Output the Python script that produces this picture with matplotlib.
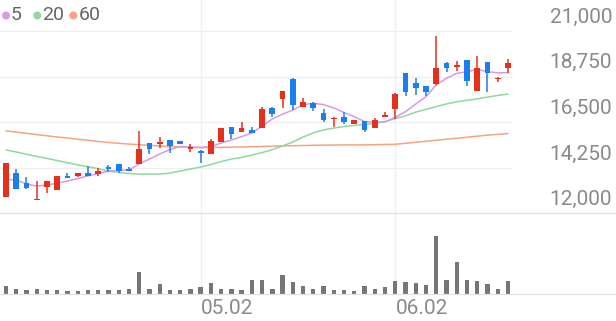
import numpy as np
import matplotlib
matplotlib.use('Agg')
import matplotlib.pyplot as plt
from matplotlib.patches import Circle
from matplotlib.lines import Line2D

plt.rcParams['font.family'] = ['Roboto', 'DejaVu Sans']

# ==========================================
# daily candles (KRW)
# ==========================================
opens = [12800, 13980, 13520, 12660, 13290, 13150, 13850, 13850, 13980, 13930,
         14300, 14420, 14210, 14440, 15490, 15420, 15620, 15570, 15160, 15050,
         14930, 15540, 16280, 16000, 16120, 16230, 17190, 17630, 18630, 17270,
         17430, 16940, 16640, 16770, 16400, 16570, 16200, 16770, 17140, 18910,
         18420, 18300, 18370, 19410, 19240, 19570, 18050, 19490, 18620, 19160]
highs = [14470, 14180, 13810, 13600, 13600, 13850, 14010, 13980, 14350, 14230,
         14390, 14420, 14300, 16080, 15490, 15790, 15620, 15570, 15420, 15130,
         15670, 16230, 16280, 16510, 16280, 17270, 17270, 18030, 18670, 17680,
         17510, 17140, 16740, 17020, 16610, 16570, 16690, 17020, 17960, 18910,
         18700, 18300, 20750, 19490, 19540, 19570, 19770, 19490, 18750, 19600]
lows = [12800, 13200, 13200, 12640, 13020, 13150, 13760, 13810, 13850, 13850,
        14060, 14010, 14110, 14440, 14930, 15240, 15000, 15420, 15010, 14470,
        14930, 15540, 15660, 16000, 15980, 16230, 16740, 17190, 17100, 17270,
        17070, 16500, 16280, 16400, 16400, 16030, 16200, 16770, 16660, 17790,
        17840, 17790, 18340, 18990, 19030, 18290, 18050, 18010, 18500, 18940]
closes = [14470, 13220, 13250, 12710, 13600, 13850, 13760, 13980, 13850, 14110,
          14190, 14110, 14110, 15160, 15160, 15510, 15340, 15420, 15260, 15000,
          15570, 16230, 15920, 16230, 15980, 17140, 16890, 18030, 17350, 17510,
          17190, 16610, 16690, 16530, 16610, 16120, 16610, 16860, 17890, 17980,
          18200, 18010, 19160, 19160, 19290, 18530, 19160, 18910, 18670, 19410]
volumes = [73, 47, 40, 47, 40, 40, 30, 30, 40, 40,
           40, 40, 47, 213, 50, 97, 40, 40, 50, 70,
           107, 50, 50, 40, 140, 133, 43, 183, 120, 73,
           43, 80, 37, 37, 27, 73, 50, 67, 130, 113,
           107, 87, 577, 140, 313, 140, 130, 93, 50, 127]

# moving averages
ma5 = [13680, 13650, 13450, 13350, 13400, 13490, 13600, 13720, 13850, 13970,
       14090, 14120, 14140, 14440, 14680, 14930, 15150, 15300, 15280, 15250,
       15300, 15470, 15620, 15790, 15970, 16310, 16660, 16900, 17100, 17370,
       17430, 17370, 17200, 16980, 16770, 16530, 16500, 16520, 16740, 17020,
       17400, 17760, 18340, 18670, 18910, 18990, 19110, 18990, 18940, 18940]
ma20 = [15130, 15030, 14920, 14810, 14710, 14610, 14500, 14400, 14300, 14210,
        14090, 14020, 13970, 13940, 13940, 13940, 13990, 14090, 14190, 14290,
        14410, 14560, 14680, 14760, 14880, 15000, 15150, 15330, 15520, 15770,
        15970, 16120, 16210, 16290, 16340, 16390, 16440, 16530, 16680, 16810,
        17000, 17130, 17270, 17400, 17510, 17580, 17650, 17740, 17820, 17890]
ma60 = [16070, 16010, 15950, 15890, 15830, 15770, 15720, 15660, 15610, 15550,
        15500, 15460, 15420, 15390, 15360, 15330, 15300, 15280, 15260, 15250,
        15260, 15260, 15270, 15280, 15290, 15300, 15320, 15330, 15340, 15350,
        15360, 15370, 15370, 15380, 15380, 15380, 15390, 15400, 15410, 15460,
        15510, 15560, 15610, 15660, 15710, 15760, 15810, 15860, 15900, 15940]

ma_names = ['5', '20', '60']
ma_colors = ['#d59be9', '#8fd89f', '#f6a37f']

tick_idx = [19, 38]
tick_labels = ['05.02', '06.02']
price_ticks = [12000, 14250, 16500, 18750, 21000]

RED = '#e5301c'
BLUE = '#1a7ef2'
GRID = '#efefef'
LINE = '#e2e2e2'
TXT = '#8a8a8a'

# ==========================================
# layout (pixels of a 616x321 figure)
# ==========================================
W, H = 616, 321
fig = plt.figure(figsize=(W / 100, H / 100), dpi=100)
fig.patch.set_facecolor('white')

plot_right = 513
price_bottom = 213.4
vol_bottom = 293.7

ax = fig.add_axes([0, (H - price_bottom) / H, plot_right / W, price_bottom / H])
axv = fig.add_axes([0, (H - vol_bottom) / H, plot_right / W, (vol_bottom - price_bottom) / H])

x = np.arange(len(opens))
for a in (ax, axv):
    a.set_xlim(-0.586, 49.49)
    a.axis('off')
ax.set_ylim(12000, 22530)
axv.set_ylim(0, 803)

# grid
for t in price_ticks[1:]:
    ax.axhline(t, color=GRID, lw=0.9, zorder=0)
for i in tick_idx:
    ax.axvline(i, color=GRID, lw=0.9, zorder=0)
    axv.axvline(i, color=GRID, lw=0.9, zorder=0)

# moving averages
for vals, col in zip([ma60, ma20, ma5], ma_colors[::-1]):
    ax.plot(x, vals, color=col, lw=1.1, zorder=2, solid_capstyle='round')

# candles
o = np.array(opens); c = np.array(closes)
up = c >= o
cols = np.where(up, RED, BLUE)
bottoms = np.minimum(o, c)
heights = np.maximum(np.abs(c - o), 60)
ax.vlines(x, lows, highs, colors=cols, lw=1.1, zorder=3)
ax.bar(x, heights, bottom=bottoms, width=0.56, color=cols, linewidth=0, zorder=4)

# volume
axv.bar(x, volumes, width=0.42, color='#767676', linewidth=0, zorder=3)

# separators across full width
for yy in (price_bottom, vol_bottom):
    fig.add_artist(Line2D([0, 1], [(H - yy) / H] * 2, transform=fig.transFigure,
                          color=LINE, lw=0.9, zorder=1))

# price labels (above their gridlines, right side)
for t in price_ticks:
    ax.annotate(f'{t:,}', xy=(1, t), xycoords=('axes fraction', 'data'),
                xytext=(71.3, 10.0), textcoords='offset points',
                ha='right', va='center', fontsize=15, color=TXT)

# date labels
for i, lab in zip(tick_idx, tick_labels):
    axv.annotate(lab, xy=(i, 0), xycoords=('data', 'axes fraction'),
                 xytext=(0.3, -11), textcoords='offset points',
                 ha='left', va='center', fontsize=15, color=TXT)

# legend
leg_dots = [6.0, 37.3, 73.3]
for name, col, dx in zip(ma_names, ma_colors, leg_dots):
    fig.add_artist(Circle((dx / 100, (H - 15.5) / 100), 4.0 / 100,
                          transform=fig.dpi_scale_trans, color=col, lw=0))
    fig.text((dx + 5.0) / 100, (H - 15.5) / 100, name, transform=fig.dpi_scale_trans,
             ha='left', va='center', fontsize=14, color='#666666')

fig.savefig('out.png', dpi=100, facecolor='white')
